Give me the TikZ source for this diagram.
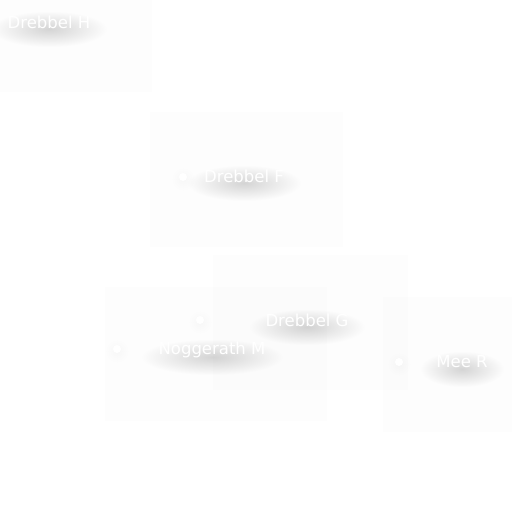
\documentclass[tikz,border=0pt]{standalone}
\usepackage{fontspec}
\usetikzlibrary{fadings}
\newfontfamily\lblfont{DejaVu Sans}
\tikzfading[name=softblob, inner color=transparent!0, outer color=transparent!100]
\tikzset{
  panel/.style={fill=black, fill opacity=0.006, draw=none},
  lbltext/.style={font=\lblfont\fontsize{16.5bp}{19bp}\selectfont, text=white, inner sep=0pt},
  blob/.style={fill=black, fill opacity=0.16, draw=none, path fading=softblob},
  dotblob/.style={fill=black, fill opacity=0.025, draw=none, path fading=softblob},
  dot/.style={circle, fill=white, draw=none, minimum size=8bp, inner sep=0pt}
}
\newcommand{\shlabel}[5]{%
  \path[blob] (#2-#5/2-16,#3-11) rectangle (#2+#5/2+16,#3+25);
  \node[lbltext] (#1) at (#2,#3) {#4};
}
\begin{document}
\begin{tikzpicture}[x=1bp,y=-1bp]
\useasboundingbox[fill=white] (0,0) rectangle (512,512);
% faint panels
\path[panel] (0,0) rectangle (152,92);
\path[panel] (150,112) rectangle (343,247);
\path[panel] (213,255) rectangle (408,390);
\path[panel] (105,287) rectangle (327,421);
\path[panel] (383,297) rectangle (512,432);
% dots
\path[dotblob] (171,167) rectangle (195,191);
\path[dotblob] (188,310) rectangle (212,334);
\path[dotblob] (105,339) rectangle (129,363);
\path[dotblob] (387,352) rectangle (411,376);
\node[dot] (dF) at (183,177) {};
\node[dot] (dG) at (200,320) {};
\node[dot] (dM) at (117,349) {};
\node[dot] (dR) at (399,362) {};
% labels
\shlabel{lH}{49}{22}{Drebbel H}{84}
\shlabel{lF}{244}{176}{Drebbel F}{82}
\shlabel{lG}{307}{320}{Drebbel G}{84}
\shlabel{lM}{212}{350}{Noggerath M}{110}
\shlabel{lR}{462}{362}{Mee R}{52}
\end{tikzpicture}
\end{document}
